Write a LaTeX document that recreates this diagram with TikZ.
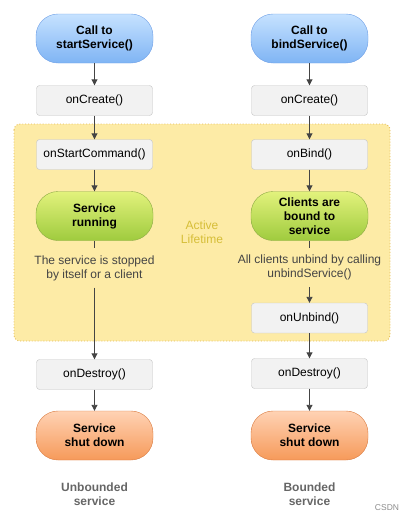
\documentclass[tikz,border=0pt]{standalone}
\usepackage{fontspec}
\setmainfont{Liberation Sans}
\usetikzlibrary{arrows.meta}
\definecolor{bluetop}{HTML}{C6E2FF}
\definecolor{bluebot}{HTML}{7FB4F4}
\definecolor{blueedge}{HTML}{6E9FE6}
\definecolor{greentop}{HTML}{E2F27C}
\definecolor{greenbot}{HTML}{9FCB3E}
\definecolor{greenedge}{HTML}{8CAA44}
\definecolor{orangetop}{HTML}{FFD2B4}
\definecolor{orangebot}{HTML}{F69A5A}
\definecolor{orangeedge}{HTML}{D97B40}
\definecolor{zonefill}{HTML}{FDEBA6}
\definecolor{zoneedge}{HTML}{E5BC55}
\definecolor{boxfill}{HTML}{F2F2F2}
\definecolor{boxedge}{HTML}{C4C4C4}
\definecolor{arrowc}{HTML}{444444}
\definecolor{activec}{HTML}{D6BE38}
\definecolor{labelc}{HTML}{666666}
\tikzset{
  every node/.style={font=\fontsize{12}{14}\selectfont, align=center},
  pill/.style={rounded corners=22pt, minimum width=117pt, minimum height=49pt, inner sep=0pt, font=\fontsize{12}{14}\selectfont\bfseries},
  bluepill/.style={pill, draw=blueedge, top color=bluetop, bottom color=bluebot},
  greenpill/.style={pill, draw=greenedge, top color=greentop, bottom color=greenbot},
  orangepill/.style={pill, draw=orangeedge, top color=orangetop, bottom color=orangebot},
  callbox/.style={draw=boxedge, fill=boxfill, rounded corners=3pt, minimum width=116pt, minimum height=30pt, inner sep=0pt},
  note/.style={minimum height=39pt, inner sep=0pt, text=arrowc},
  flow/.style={draw=arrowc, line width=0.9pt, -{Triangle[length=6pt, width=6pt]}},
  plainflow/.style={draw=arrowc, line width=0.9pt},
  caption/.style={text=labelc, font=\fontsize{12}{14}\selectfont\bfseries}
}
\begin{document}
\begin{tikzpicture}[x=1pt, y=1pt]
\useasboundingbox (0,0) rectangle (403,-515);
% active lifetime zone
\draw[zoneedge, fill=zonefill, dotted, line width=0.9pt, rounded corners=6pt] (14,-124) rectangle (390,-341);
\node[text=activec] (active) at (202,-232) {Active\\Lifetime};
% left column
\node[bluepill] (lstart) at (94.5,-38.5) {Call to\\startService()};
\node[callbox] (lcreate) at (94.5,-100.5) {onCreate()};
\node[callbox] (lcmd) at (94.5,-154.5) {onStartCommand()};
\node[greenpill] (lrun) at (94.5,-216) {Service\\running};
\node[note] (lnote) at (94.5,-268) {The service is stopped\\by itself or a client};
\node[callbox] (ldestroy) at (94.5,-374.5) {onDestroy()};
\node[orangepill] (ldown) at (94.5,-435.5) {Service\\shut down};
\node[caption] (lcap) at (94.5,-494) {Unbounded\\service};
% right column
\node[bluepill] (rstart) at (309.5,-38.5) {Call to\\bindService()};
\node[callbox] (rcreate) at (309.5,-100.5) {onCreate()};
\node[callbox] (rbind) at (309.5,-154.5) {onBind()};
\node[greenpill] (rbound) at (309.5,-216) {Clients are\\bound to\\service};
\node[note] (rnote) at (309.5,-267.5) {All clients unbind by calling\\unbindService()};
\node[callbox] (runbind) at (309.5,-318) {onUnbind()};
\node[callbox] (rdestroy) at (309.5,-373.5) {onDestroy()};
\node[orangepill] (rdown) at (309.5,-435.5) {Service\\shut down};
\node[caption] (rcap) at (309.5,-494) {Bounded\\service};
% watermark
\node[text=black!45, font=\fontsize{8.5}{10}\selectfont] (mark) at (387,-508) {CSDN};
% connectors
\draw[flow] (lstart) -- (lcreate);
\draw[flow] (lcreate) -- (lcmd);
\draw[flow] (lcmd) -- (lrun);
\draw[plainflow] (lrun) -- (lnote);
\draw[flow] (lnote) -- (ldestroy);
\draw[flow] (ldestroy) -- (ldown);
\draw[flow] (rstart) -- (rcreate);
\draw[flow] (rcreate) -- (rbind);
\draw[flow] (rbind) -- (rbound);
\draw[plainflow] (rbound) -- (rnote);
\draw[flow] (rnote) -- (runbind);
\draw[flow] (runbind) -- (rdestroy);
\draw[flow] (rdestroy) -- (rdown);
\end{tikzpicture}
\end{document}
